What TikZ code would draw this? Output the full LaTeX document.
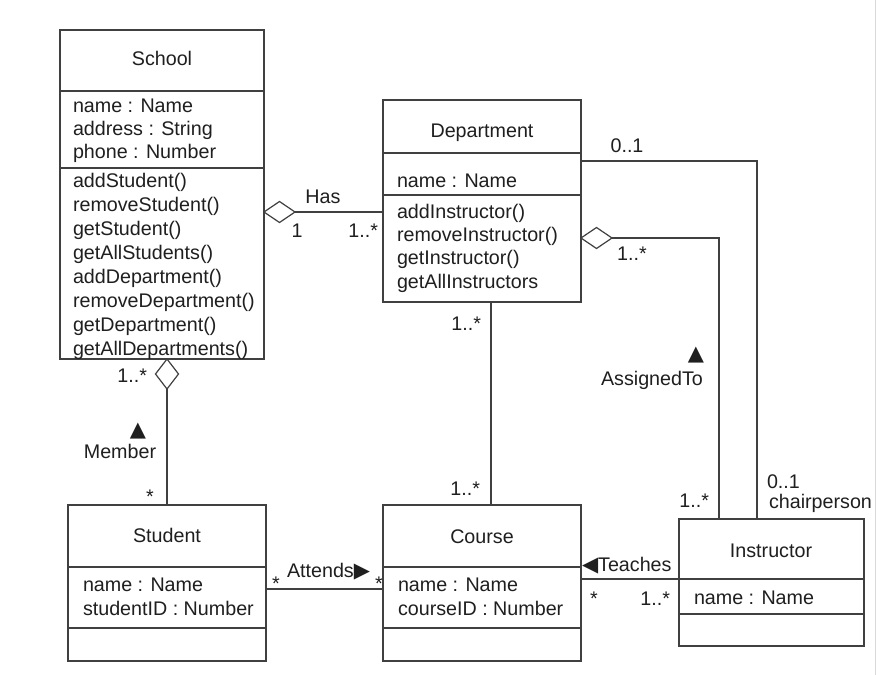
\documentclass[tikz,border=0pt]{standalone}
\usepackage{fontspec}
\setmainfont{Liberation Sans}
\newfontfamily\symfont{DejaVu Sans}
\usetikzlibrary{shapes.geometric}
\begin{document}
\begin{tikzpicture}[x=1pt,y=-1pt,
  txt/.style={inner sep=0pt, outer sep=0pt, text=black!88, font=\fontsize{19.7}{24}\selectfont},
  lbl/.style={txt, anchor=base west},
  ttl/.style={txt, anchor=base},
  cls/.style={draw=black!75, line width=1.2pt, inner sep=0pt, outer sep=0pt, anchor=north west},
  sep/.style={draw=black!75, line width=1.2pt},
  conn/.style={draw=black!75, line width=1.2pt},
  agg/.style={diamond, draw=black!75, line width=1.2pt, fill=white, inner sep=0pt, outer sep=0pt},
  sym/.style={txt, font=\symfont\fontsize{21}{21}\selectfont}]

\useasboundingbox (0,0) rectangle (876,675);
\fill[white] (0,0) rectangle (876,675);
\draw[black!15, line width=1pt] (875,0) -- (875,675);

% ---------- class boxes ----------
\node[cls, minimum width=204pt, minimum height=329pt] (school) at (60,30) {};
\node[cls, minimum width=198pt, minimum height=202pt] (dept) at (383,100) {};
\node[cls, minimum width=198pt, minimum height=156pt] (student) at (68,505) {};
\node[cls, minimum width=198pt, minimum height=156pt] (course) at (383,505) {};
\node[cls, minimum width=185pt, minimum height=127pt] (instr) at (679,519) {};

% compartment separators
\coordinate (sch-h) at (0,91);  \coordinate (sch-a) at (0,168);
\coordinate (dep-h) at (0,153); \coordinate (dep-a) at (0,195);
\coordinate (stu-h) at (0,567); \coordinate (stu-a) at (0,628);
\coordinate (ins-h) at (0,579); \coordinate (ins-a) at (0,614);
\draw[sep] (school.west |- sch-h) -- (school.east |- sch-h);
\draw[sep] (school.west |- sch-a) -- (school.east |- sch-a);
\draw[sep] (dept.west |- dep-h) -- (dept.east |- dep-h);
\draw[sep] (dept.west |- dep-a) -- (dept.east |- dep-a);
\draw[sep] (student.west |- stu-h) -- (student.east |- stu-h);
\draw[sep] (student.west |- stu-a) -- (student.east |- stu-a);
\draw[sep] (course.west |- stu-h) -- (course.east |- stu-h);
\draw[sep] (course.west |- stu-a) -- (course.east |- stu-a);
\draw[sep] (instr.west |- ins-h) -- (instr.east |- ins-h);
\draw[sep] (instr.west |- ins-a) -- (instr.east |- ins-a);

% ---------- class texts ----------
\node[ttl] (school-t) at (162,65) {School};
\foreach \t [count=\i] in {name : Name, address : String, phone : Number}
  \node[lbl] (school-a\i) at (73,{112+23*(\i-1)}) {\t};
\foreach \t [count=\i] in {addStudent(), removeStudent(), getStudent(), getAllStudents(),
    addDepartment(), removeDepartment(), getDepartment(), getAllDepartments()}
  \node[lbl] (school-m\i) at (73,{187+24*(\i-1)}) {\t};

\node[ttl] (dept-t) at (482,137) {Department};
\node[lbl] (dept-a1) at (397,187) {name : Name};
\foreach \t [count=\i] in {addInstructor(), removeInstructor(), getInstructor(), getAllInstructors}
  \node[lbl] (dept-m\i) at (397,{218+23.4*(\i-1)}) {\t};

\node[ttl] (student-t) at (167,542) {Student};
\node[lbl] (student-a1) at (83,591) {name : Name};
\node[lbl] (student-a2) at (83,615) {studentID : Number};

\node[ttl] (course-t) at (482,543) {Course};
\node[lbl] (course-a1) at (398,591) {name : Name};
\node[lbl] (course-a2) at (398,615) {courseID : Number};

\node[ttl] (instr-t) at (771,557) {Instructor};
\node[lbl] (instr-a1) at (694,604) {name : Name};

% ---------- connectors ----------
% School -- Department (Has)
\coordinate (has-y) at (0,212);
\node[agg, minimum width=31pt, minimum height=21pt, anchor=west] (hasd) at (school.east |- has-y) {};
\draw[conn] (hasd.east) -- (dept.west |- hasd.east);

% School -- Student (Member)
\coordinate (mem-x) at (167,0);
\node[agg, minimum width=23pt, minimum height=30pt, anchor=north] (memd) at (school.south -| mem-x) {};
\draw[conn] (memd.south) -- (student.north -| memd.south);

% Department -- Instructor (chairperson)
\coordinate (ch-y) at (0,161); \coordinate (ch-x) at (757,0);
\draw[conn] (dept.east |- ch-y) -| (instr.north -| ch-x);

% Department -- Instructor (AssignedTo)
\coordinate (as-y) at (0,238); \coordinate (as-x) at (719,0);
\node[agg, minimum width=31pt, minimum height=21pt, anchor=west] (asd) at (dept.east |- as-y) {};
\draw[conn] (asd.east) -| (instr.north -| as-x);

% Department -- Course
\coordinate (dc-x) at (491,0);
\draw[conn] (dept.south -| dc-x) -- (course.north -| dc-x);

% Student -- Course (Attends)
\coordinate (at-y) at (0,589);
\draw[conn] (student.east |- at-y) -- (course.west |- at-y);

% Instructor -- Course (Teaches)
\draw[conn] (instr.west |- ins-h) -- (course.east |- ins-h);

% ---------- labels ----------
\node[ttl] (has-l) at (323,203) {Has};
\node[ttl] (has-m1) at (297,237) {1};
\node[txt, anchor=base east] (has-m2) at (378,237) {1..*};

\node[ttl] (ch-m1) at (627,152) {0..1};
\node[lbl] (ch-m2) at (767,488) {0..1};
\node[lbl] (ch-r) at (769,508) {chairperson};

\node[ttl] (as-m1) at (632,260) {1..*};
\node[sym, anchor=base] (as-tri) at (696,360) {▲};
\node[ttl] (as-l) at (652,385) {AssignedTo};
\node[txt, anchor=base east] (as-m2) at (709,507) {1..*};

\node[txt, anchor=base east] (dc-m1) at (481,330) {1..*};
\node[txt, anchor=base east] (dc-m2) at (480,495) {1..*};

\node[txt, anchor=base east] (mem-m1) at (147,382) {1..*};
\node[sym, anchor=base] (mem-tri) at (138,436) {▲};
\node[ttl] (mem-l) at (120,458) {Member};
\node[ttl] (mem-m2) at (150,503) {*};

\node[lbl] (at-l) at (287,577) {Attends{\symfont\fontsize{21}{21}\selectfont ▶}};
\node[ttl] (at-m1) at (276,590) {*};
\node[ttl] (at-m2) at (379,590) {*};

\node[lbl] (te-l) at (582,571) {{\symfont\fontsize{21}{21}\selectfont ◀}Teaches};
\node[ttl] (te-m1) at (594,605) {*};
\node[txt, anchor=base east] (te-m2) at (670,605) {1..*};

\end{tikzpicture}
\end{document}
